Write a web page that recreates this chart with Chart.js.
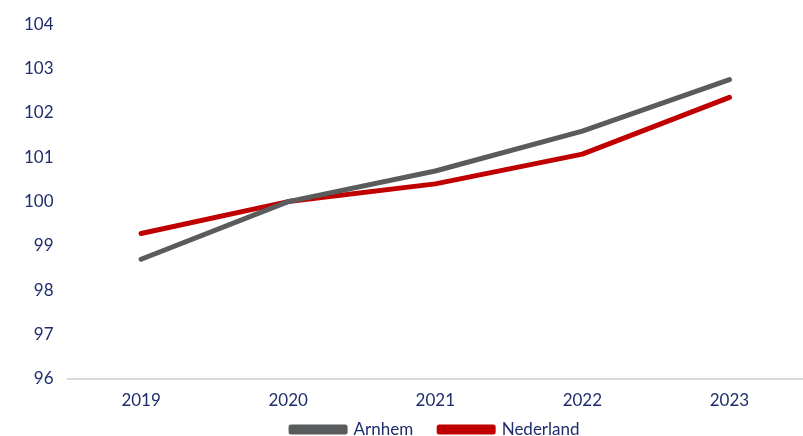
<!DOCTYPE html>
<html>
<head>
<meta charset="utf-8">
<script src="https://cdn.jsdelivr.net/npm/chart.js@4.4.0/dist/chart.umd.min.js"></script>
<style>
  html, body { margin: 0; padding: 0; background: #fff; }
  #wrap { width: 803px; height: 436px; }
</style>
</head>
<body>
<div id="wrap"><canvas id="chart" width="803" height="436"></canvas></div>
<script>
// jaren en indexcijfers (2020 = 100)
var years = ["2019", "2020", "2021", "2022", "2023"];
var arnhem = [98.70, 100.0, 100.69, 101.59, 102.75];
var nederland = [99.28, 100.0, 100.40, 101.07, 102.35];
var yTicks = [96, 97, 98, 99, 100, 101, 102, 103, 104];

var textColor = "#1f2d6b";
Chart.defaults.font.family = "Lato, 'Noto Sans', sans-serif";
Chart.defaults.font.size = 17;
Chart.defaults.color = textColor;

// legenda compacter maken zodat hij dicht onder de as staat
var legendShift = {
  id: "legendShift",
  afterInit: function (chart) {
    var lg = chart.legend;
    var origFit = lg.fit;
    lg.fit = function () {
      origFit.call(this);
      this.height = 25;
    };
  },
  afterLayout: function (chart) {
    chart.legend.top -= 16;
  }
};

var ctx = document.getElementById("chart");
var lineChart = new Chart(ctx, {
  type: "line",
  data: {
    labels: years,
    datasets: [{
      label: "Arnhem",
      data: arnhem,
      borderColor: "#595b5c",
      backgroundColor: "#595b5c",
      borderWidth: 5,
      pointRadius: 0,
      borderCapStyle: "round",
      borderJoinStyle: "round"
    },
    {
      label: "Nederland",
      data: nederland,
      borderColor: "#c00000",
      backgroundColor: "#c00000",
      borderWidth: 5,
      pointRadius: 0,
      borderCapStyle: "round",
      borderJoinStyle: "round"
    }]
  },
  plugins: [legendShift],
  options: {
    responsive: false,
    animation: false,
    layout: { padding: { left: 10, right: 0, top: -2, bottom: 0 } },
    plugins: {
      legend: {
        position: "bottom",
        fullSize: false,
        labels: {
          boxWidth: 54,
          boxHeight: 5,
          padding: 26,
          color: textColor,
          font: { size: 17 }
        }
      },
      tooltip: { enabled: false }
    },
    scales: {
      x: {
        offset: true,
        grid: { display: false, drawTicks: false },
        border: { color: "#d9d9d9", width: 2 },
        ticks: { padding: 11, color: textColor },
        afterFit: function (scale) { scale.height = 32; }
      },
      y: {
        min: 96,
        max: 104,
        afterBuildTicks: function (axis) {
          axis.ticks = yTicks.map(function (v) { return { value: v }; });
        },
        grid: { display: false, drawTicks: false },
        border: { display: false },
        ticks: { padding: 14, color: textColor }
      }
    }
  }
});
</script>
</body>
</html>
